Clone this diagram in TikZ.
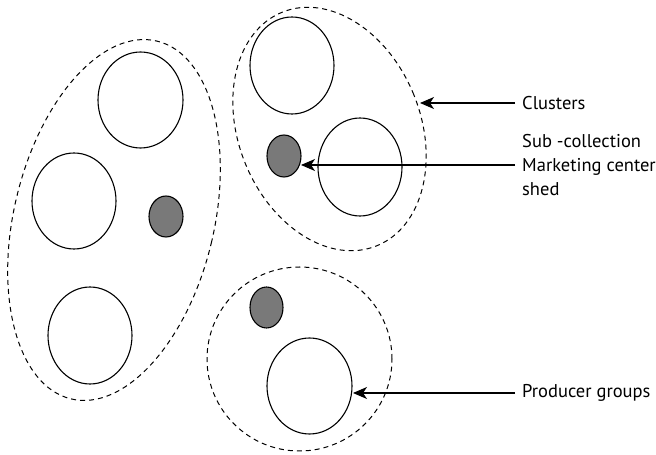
\documentclass[tikz,border=0pt]{standalone}
\usepackage{fontspec}
\setmainfont{PT Sans}
\usetikzlibrary{shapes.geometric,arrows.meta}
\begin{document}
\begin{tikzpicture}[x=1pt,y=1pt,
  grp/.style={ellipse,draw,dash pattern=on 5pt off 4pt,line width=1pt,inner sep=0pt},
  blob/.style={ellipse,draw,line width=1.1pt,inner sep=0pt},
  dot/.style={ellipse,draw,fill=gray!95!black,line width=1.1pt,inner sep=0pt,minimum width=34pt,minimum height=41pt},
  lab/.style={anchor=west,inner xsep=7pt,inner ysep=0pt,font=\fontsize{18.5}{24}\selectfont,align=left},
  arr/.style={-{Stealth[length=14pt,width=12pt,inset=4pt]},line width=1.1pt}]
\useasboundingbox (0,0) rectangle (656,455);
% clusters
\node[grp,rotate=-13.5,minimum width=200pt,minimum height=368pt] (gl) at (114,235) {};
\node[grp,rotate=22,minimum width=182pt,minimum height=252pt] (gr) at (329.5,326) {};
\node[grp,minimum width=185pt,minimum height=184pt] (gb) at (299.5,96) {};
% left cluster
\node[blob,minimum width=85pt,minimum height=96pt] (l1) at (140.5,355) {};
\node[blob,minimum width=84pt,minimum height=96pt] (l2) at (74,254) {};
\node[blob,minimum width=84pt,minimum height=97pt] (l3) at (90,119.5) {};
\node[dot] (lg) at (166,238.5) {};
% right cluster
\node[blob,minimum width=84pt,minimum height=97pt] (r1) at (292,389.5) {};
\node[blob,minimum width=84pt,minimum height=98pt] (r2) at (360,288) {};
\node[dot,minimum height=42pt] (rg) at (284,299) {};
% bottom cluster
\node[dot,minimum width=33pt] (bg) at (266.5,147.5) {};
\node[blob,minimum width=85pt,minimum height=96pt] (b1) at (309.5,69) {};
% labels
\node[lab] (tclu) at (515,352) {Clusters};
\node[lab] (tsub) at (515,290) {Sub -collection\\Marketing center\\shed};
\node[lab] (tpro) at (515,62) {Producer groups};
\coordinate (cclu) at (420,352);
\coordinate (csub) at (301,290);
\coordinate (cpro) at (353,62);
\draw[arr] (tclu.west) -- (cclu);
\draw[arr] (tsub.west) -- (csub);
\draw[arr] (tpro.west) -- (cpro);
\end{tikzpicture}
\end{document}
